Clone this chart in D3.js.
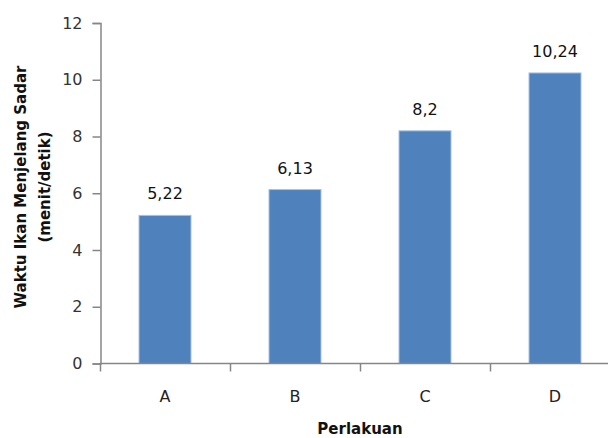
<!DOCTYPE html>
<html>
<head>
<meta charset="utf-8">
<script src="https://cdn.jsdelivr.net/npm/d3@7"></script>
<style>
  html, body { margin: 0; padding: 0; background: #fff; }
  svg { display: block; }
  text { font-family: "DejaVu Sans", Verdana, sans-serif; }
</style>
</head>
<body>
<div id="chart"></div>
<script>
// Recovery time of fish after anaesthesia, per treatment
const categories = ["A", "B", "C", "D"];
const values = [5.22, 6.13, 8.2, 10.24];
const valueLabels = ["5,22", "6,13", "8,2", "10,24"];
const yTicks = [0, 2, 4, 6, 8, 10, 12];
const yTitleLines = ["Waktu Ikan Menjelang Sadar", "(menit/detik)"];
const xTitle = "Perlakuan";

const W = 608, H = 438;
const margin = { left: 100, top: 23, bottom: 74 };
const plotRight = 620; // plot area runs past the window edge

const svg = d3.select("#chart").append("svg")
  .attr("width", W).attr("height", H);

const x = d3.scaleBand()
  .domain(categories)
  .range([margin.left, plotRight])
  .paddingInner(0.6)
  .paddingOuter(0.3);

const y = d3.scaleLinear()
  .domain([0, 12])
  .range([H - margin.bottom - 0.5, margin.top]);

const axisColor = "#868686";

// Bars
svg.append("g").selectAll("rect")
  .data(values)
  .join("rect")
  .attr("x", (d, i) => x(categories[i]))
  .attr("width", x.bandwidth())
  .attr("y", d => y(d))
  .attr("height", d => y(0) - y(d))
  .attr("fill", "#4f81bd")
  .attr("stroke", "#a9c1e0")
  .attr("stroke-width", 1);

// Value labels
svg.append("g").selectAll("text")
  .data(values)
  .join("text")
  .attr("x", (d, i) => x(categories[i]) + x.bandwidth() / 2)
  .attr("y", d => y(d) - 16)
  .attr("text-anchor", "middle")
  .attr("font-size", 16)
  .attr("fill", "#111")
  .text((d, i) => valueLabels[i]);

// Y axis
const yAxis = svg.append("g")
  .attr("transform", `translate(${margin.left + 0.5},0)`)
  .call(d3.axisLeft(y).tickValues(yTicks).tickSize(8).tickPadding(10).tickFormat(d3.format("d")));
yAxis.select(".domain").attr("stroke", axisColor).attr("stroke-width", 1.5);
yAxis.selectAll(".tick line").attr("stroke", axisColor).attr("stroke-width", 1.5);
yAxis.selectAll(".tick text").attr("font-size", 16).attr("fill", "#333")
  .attr("font-family", "DejaVu Sans, sans-serif");

// X axis with boundary ticks between categories
const xAxisG = svg.append("g")
  .attr("transform", `translate(0,${y(0)})`);
xAxisG.append("line")
  .attr("x1", margin.left).attr("x2", W)
  .attr("stroke", axisColor).attr("stroke-width", 1.5);
const step = x.step();
const boundaries = d3.range(categories.length + 1).map(i => margin.left + i * step);
xAxisG.selectAll("line.tick")
  .data(boundaries)
  .join("line")
  .attr("class", "tick")
  .attr("x1", d => d + 0.5).attr("x2", d => d + 0.5)
  .attr("y1", 0).attr("y2", 8)
  .attr("stroke", axisColor).attr("stroke-width", 1.5);
xAxisG.selectAll("text")
  .data(categories)
  .join("text")
  .attr("x", d => x(d) + x.bandwidth() / 2)
  .attr("y", 38)
  .attr("text-anchor", "middle")
  .attr("font-size", 16)
  .attr("fill", "#222")
  .text(d => d);

// Axis titles
const yTitle = svg.append("text")
  .attr("transform", "translate(26,187) rotate(-90)")
  .attr("text-anchor", "middle")
  .attr("font-size", 15)
  .attr("font-weight", "bold")
  .attr("fill", "#111");
yTitle.selectAll("tspan")
  .data(yTitleLines)
  .join("tspan")
  .attr("x", 0)
  .attr("dy", (d, i) => i === 0 ? 0 : 24)
  .text(d => d);

svg.append("text")
  .attr("x", 360)
  .attr("y", 434)
  .attr("text-anchor", "middle")
  .attr("font-size", 15)
  .attr("font-weight", "bold")
  .attr("fill", "#111")
  .text(xTitle);
</script>
</body>
</html>
